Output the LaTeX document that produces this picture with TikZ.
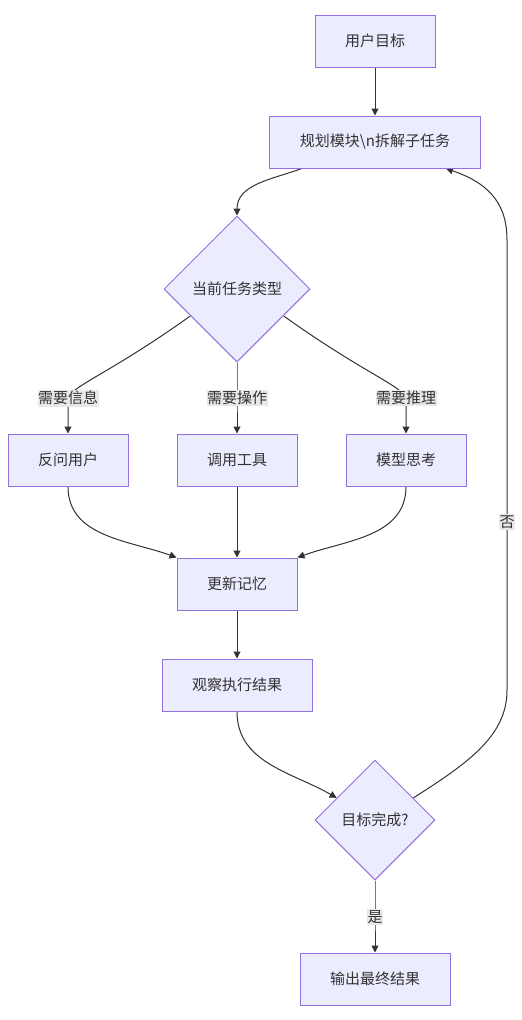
\documentclass[tikz,border=0pt]{standalone}
\usepackage{fontspec}
\setmainfont{Noto Sans CJK SC}
\usetikzlibrary{shapes.geometric,arrows.meta,backgrounds}
\definecolor{boxfill}{HTML}{ECECFF}
\definecolor{boxline}{HTML}{9370DB}
\definecolor{ink}{HTML}{333333}
\definecolor{lblfill}{HTML}{E8E8E8}
\begin{document}
\begin{tikzpicture}[x=1pt,y=-1pt,
  font=\fontsize{15}{18}\selectfont,text=ink,
  box/.style={draw=boxline,fill=boxfill,line width=1pt,minimum height=52pt,inner xsep=30pt},
  choice/.style={diamond,aspect=1,draw=boxline,fill=boxfill,line width=1pt,inner sep=0pt,minimum size=#1},
  lbl/.style={fill=lblfill,inner xsep=0.5pt,inner ysep=1.5pt},
  flow/.style={draw=ink,line width=1pt,-{Triangle[length=7pt,width=7pt]}}
]
  \useasboundingbox (0,0) rectangle (522,1020);

  \node[box] (goal) at (375,41) {用户目标};
  \node[box] (plan) at (375,142) {规划模块\textbackslash n拆解子任务};
  \node[choice=146pt] (type) at (237,289) {当前任务类型};
  \node[lbl] (info) at (68,398) {需要信息};
  \node[lbl] (act) at (237,398) {需要操作};
  \node[lbl] (reason) at (406,398) {需要推理};
  \node[box] (ask) at (68,460) {反问用户};
  \node[box] (tool) at (237,460) {调用工具};
  \node[box] (think) at (406,460) {模型思考};
  \node[box] (mem) at (237,584) {更新记忆};
  \node[box] (obs) at (237,685) {观察执行结果};
  \node[choice=120pt] (done) at (375,820) {目标完成?};
  \node[lbl] (yes) at (375,917) {是};
  \node[box] (final) at (375,979) {输出最终结果};
  \node[lbl] (no) at (507,522) {否};
  \coordinate (up) at (507,240);
  \coordinate (down) at (507,690);

  \begin{scope}[on background layer]
  \draw[flow] (goal) -- (plan);
  \draw[flow] ([xshift=-73pt]plan.south) to[out=-160,in=90] (type.north);
  \draw[flow] (type.-150) .. controls (112,372) and (72,386) .. (info.center) -- (ask);
  \draw[flow] (type) -- (act.center) -- (tool);
  \draw[flow] (type.-30) .. controls (362,372) and (402,386) .. (reason.center) -- (think);
  \draw[flow] (ask.south) to[out=-90,in=160] (mem.north west);
  \draw[flow] (tool) -- (mem);
  \draw[flow] (think.south) to[out=-90,in=20] (mem.north east);
  \draw[flow] (mem) -- (obs);
  \draw[flow] (obs.south) to[out=-90,in=150] (done.150);
  \draw[flow] (done) -- (yes.center) -- (final);
  \draw[flow] (done.30) .. controls (470,762) and (507,735) .. (down) -- (no.center)
    -- (up) .. controls (507,200) and (485,182) .. ([xshift=71pt]plan.south);
  \end{scope}

\end{tikzpicture}
\end{document}
